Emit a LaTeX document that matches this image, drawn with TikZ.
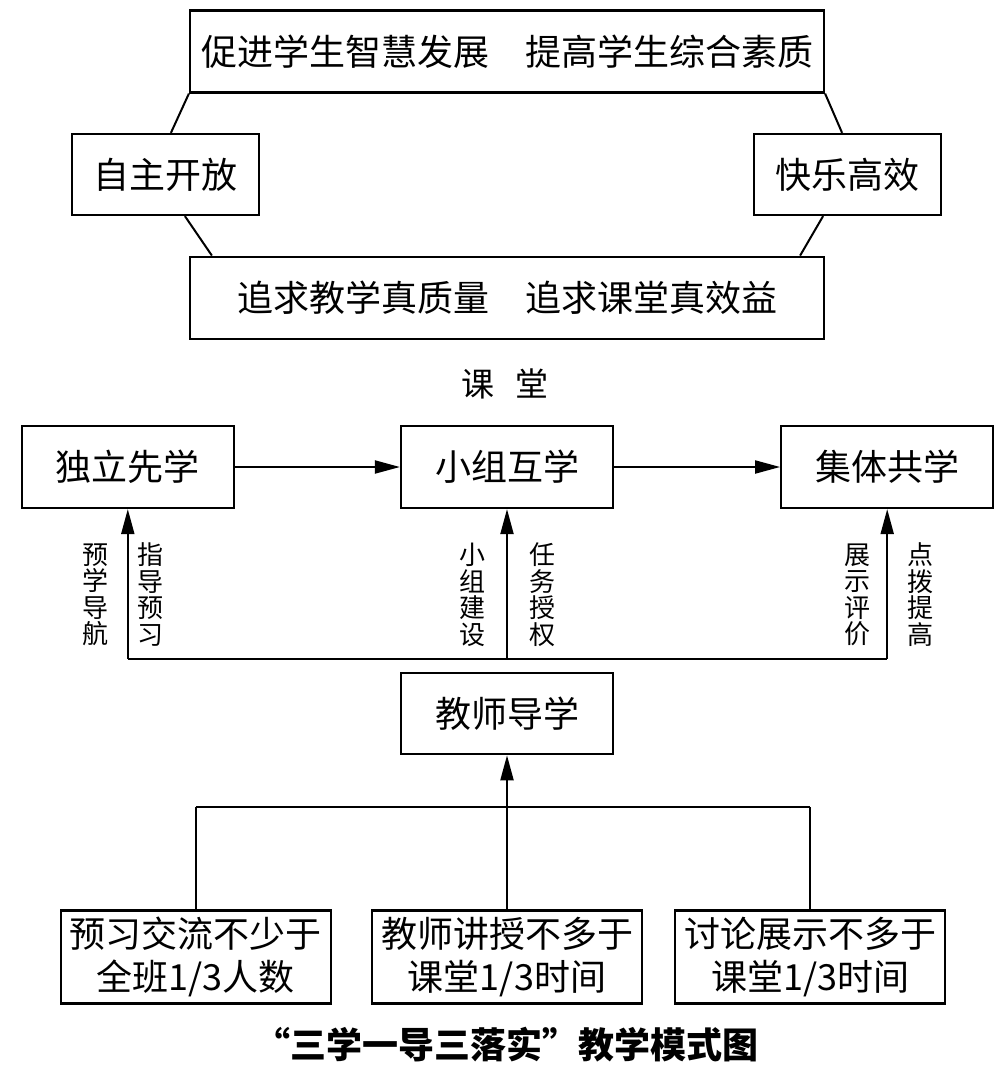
\documentclass[tikz,border=0pt]{standalone}
\usepackage{fontspec}
\setmainfont{Noto Sans CJK SC}
\usetikzlibrary{arrows.meta,positioning}

\tikzset{
  box/.style={draw, line width=2.2pt, inner sep=0pt, align=center, font=\fontsize{36}{43}\selectfont},
  vlabel/.style={inner sep=0pt, align=center, font=\fontsize{26}{26.5}\selectfont},
  arr/.style={-{Triangle[length=25pt,width=13pt]}, line width=2pt},
  link/.style={line width=2pt}
}

\begin{document}
\begin{tikzpicture}[x=1pt,y=1pt]
                    \useasboundingbox (0,0) rectangle (999,-1073);
                    \node [box, minimum width=634pt, minimum height=82pt] (cujin) at (507,-51.5) {促进学生智慧发展\quad 提高学生综合素质};
                    \node [box, minimum width=187pt, minimum height=81pt] (zizhu) at (165.5,-174.5) {自主开放};
                    \node [box, minimum width=187pt, minimum height=81pt] (kuaile) at (847.5,-174.5) {快乐高效};
                    \node [box, minimum width=634pt, minimum height=82pt, below = 162pt of cujin] (zhuiqiu) {追求教学真质量\quad 追求课堂真效益};
                    \draw[link] (cujin.south west) -- ([xshift=100pt]zizhu.north west);
                    \draw[link] ([xshift=114pt]zizhu.south west) -- ([xshift=23pt]zhuiqiu.north west);
                    \draw[link] (cujin.south east) -- ([xshift=-100pt]kuaile.north east);
                    \draw[link] ([xshift=-119pt]kuaile.south east) -- ([xshift=-25pt]zhuiqiu.north east);
                    \node (ketang) at (505,-384) {\fontsize{33}{33}\selectfont 课\hspace{22pt}堂};
                    \node [box, minimum width=212pt, minimum height=82pt] (xiaozu) at (507,-467) {小组互学};
                    \node [box, minimum width=212pt, minimum height=82pt, left = 165pt of xiaozu] (duli) {独立先学};
                    \node [box, minimum width=212pt, minimum height=82pt, right = 166pt of xiaozu] (jiti) {集体共学};
                    \draw[arr] (duli) -- (xiaozu);
                    \draw[arr] (xiaozu) -- (jiti);
                    \node [box, minimum width=212pt, minimum height=81pt, below = 163pt of xiaozu] (jiaoshi) {教师导学};
                    \coordinate [above = 13pt of jiaoshi] (bus);
                    \draw[link] (bus -| duli) -- (bus -| jiti);
                    \draw[arr] (bus -| duli) -- node[vlabel, pos=0.43, left=18pt] (yuxue) {预\\学\\导\\航} node[vlabel, pos=0.43, right=9pt] (zhidao) {指\\导\\预\\习} (duli);
                    \draw[arr] (bus -| xiaozu) -- node[vlabel, pos=0.43, left=21pt] (jianshe) {小\\组\\建\\设} node[vlabel, pos=0.43, right=21pt] (shouquan) {任\\务\\授\\权} (xiaozu);
                    \draw[arr] (bus -| jiti) -- node[vlabel, pos=0.43, left=16pt] (pingjia) {展\\示\\评\\价} node[vlabel, pos=0.43, right=19pt] (tigao) {点\\拨\\提\\高} (jiti);
                    \node [box, minimum width=270pt, minimum height=93pt, below = 154pt of jiaoshi] (jiangshou) {教师讲授不多于\\课堂1/3时间};
                    \node [box, minimum width=270pt, minimum height=93pt, left = 39pt of jiangshou] (yuxi) {预习交流不少于\\全班1/3人数};
                    \node [box, minimum width=270pt, minimum height=93pt, right = 31pt of jiangshou] (taolun) {讨论展示不多于\\课堂1/3时间};
                    \coordinate [below = 52pt of jiaoshi] (fork);
                    \draw[link] (fork -| yuxi) -- (fork -| taolun);
                    \draw[link] (fork -| yuxi) -- (yuxi);
                    \draw[link] (fork -| taolun) -- (taolun);
                    \draw[arr] (jiangshou) -- (jiaoshi);
                    \node (title) at (506,-1045) {\fontsize{36}{36}\selectfont\bfseries “三学一导三落实”教学模式图};
\end{tikzpicture}
\end{document}
